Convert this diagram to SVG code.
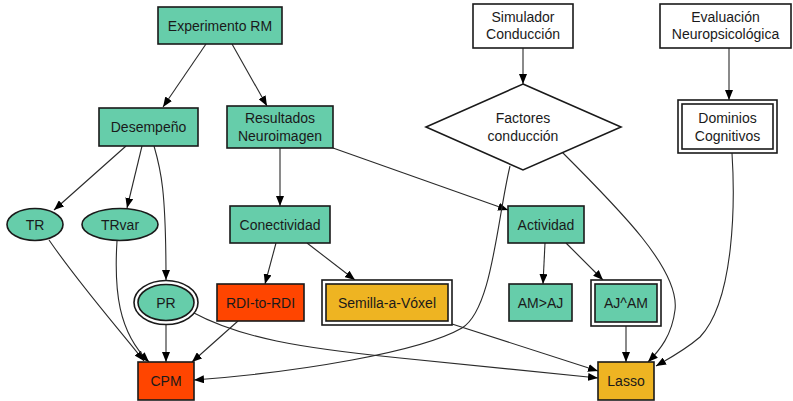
<svg xmlns="http://www.w3.org/2000/svg" width="793" height="401" viewBox="0 0 793 401">
<defs>
<style>
.n{stroke:#1a1a1a;stroke-width:1.6}
.t{fill:#66cdaa}
.o{fill:#ff4500}
.g{fill:#eeb422}
.w{fill:#ffffff}
text{font-family:"Liberation Sans",Arial,sans-serif;font-size:14px;fill:#1a1a1a;text-anchor:middle}
.e path{fill:none;stroke:#2a2a2a;stroke-width:1.1;marker-end:url(#ah)}
</style>
<marker id="ah" viewBox="0 0 10 8" refX="10" refY="4" markerWidth="10" markerHeight="8" orient="auto" markerUnits="userSpaceOnUse"><path d="M0,0 L10,4 L0,8 z" fill="#000"/></marker>
</defs>
<rect width="793" height="401" fill="#fff"/>
<g class="e" id="edges">
<path d="M206,44 L163,107"/>
<path d="M232,44 L267,106"/>
<path d="M126,146 L54,210"/>
<path d="M142,146 L127,208"/>
<path d="M154,146 C161,170 166,190 166,280"/>
<path d="M280,148 L280,206"/>
<path d="M333,148 L508,210"/>
<path d="M276,243 L265,284"/>
<path d="M307,243 L355,280"/>
<path d="M545,243 L543,284"/>
<path d="M566,243 L603,280"/>
<path d="M523,48 L523,84"/>
<path d="M729,48 L729,100"/>
<path d="M510,166 C497,220 492,310 462,328 C420,352 300,372 194,380"/>
<path d="M562,152 C620,210 680,270 675,310 C672,335 660,350 648,362"/>
<path d="M732,153 C735,200 735,300 700,337 C685,350 670,358 656,366"/>
<path d="M49,240 C80,285 118,328 144,361"/>
<path d="M117,241 C114,290 118,332 149,362"/>
<path d="M166,325 L166,362"/>
<path d="M192,312 C240,338 300,348 400,358 C480,366 560,374 598,378"/>
<path d="M452,324 L598,371"/>
<path d="M238,321 L192,362"/>
<path d="M626,326 L626,362"/>
</g>
<g id="experimento"><rect class="n t" x="158" y="7" width="124" height="37"/><text x="220" y="31">Experimento RM</text></g>
<g id="desempeno"><rect class="n t" x="99" y="108" width="99" height="38"/><text x="148.5" y="132">Desempeño</text></g>
<g id="resultados"><rect class="n t" x="227" y="106" width="106" height="42"/><text x="280" y="123">Resultados</text><text x="280" y="141">Neuroimagen</text></g>
<g id="simulador"><rect class="n w" x="473" y="4" width="100" height="44"/><text x="523" y="22">Simulador</text><text x="523" y="39">Conducción</text></g>
<g id="evaluacion"><rect class="n w" x="660" y="4" width="131" height="44"/><text x="725.5" y="22">Evaluación</text><text x="725.5" y="39">Neuropsicológica</text></g>
<g id="factores"><polygon class="n w" points="523,84 621,127 523,170 426,127"/><text x="523" y="123">Factores</text><text x="523" y="141">conducción</text></g>
<g id="dominios"><rect class="n w" x="678" y="100" width="99" height="53"/><rect class="n w" x="682" y="104" width="91" height="45"/><text x="727.5" y="123">Dominios</text><text x="727.5" y="141">Cognitivos</text></g>
<g id="tr"><ellipse class="n t" cx="35" cy="224.5" rx="28" ry="16"/><text x="35" y="229.5">TR</text></g>
<g id="trvar"><ellipse class="n t" cx="120" cy="224.5" rx="38" ry="16"/><text x="120" y="229.5">TRvar</text></g>
<g id="conectividad"><rect class="n t" x="230" y="206" width="100" height="37"/><text x="280" y="229.5">Conectividad</text></g>
<g id="actividad"><rect class="n t" x="508" y="206" width="76" height="37"/><text x="546" y="229.5">Actividad</text></g>
<g id="pr"><ellipse class="n w" cx="166" cy="302.5" rx="32" ry="22"/><ellipse class="n t" cx="166" cy="302.5" rx="28" ry="18"/><text x="166" y="307.5">PR</text></g>
<g id="rdi"><rect class="n o" x="217" y="284" width="87" height="37"/><text x="260.5" y="307.5">RDI-to-RDI</text></g>
<g id="semilla"><rect class="n w" x="322" y="280" width="130" height="45"/><rect class="n g" x="326" y="284" width="122" height="37"/><text x="387" y="307.5">Semilla-a-Vóxel</text></g>
<g id="amaj"><rect class="n t" x="509" y="284" width="63" height="37"/><text x="540.5" y="307.5">AM&gt;AJ</text></g>
<g id="ajam"><rect class="n w" x="591" y="280" width="70" height="46"/><rect class="n t" x="595" y="284" width="62" height="38"/><text x="626" y="307.5">AJ^AM</text></g>
<g id="cpm"><rect class="n o" x="138" y="362" width="56" height="38"/><text x="166" y="386">CPM</text></g>
<g id="lasso"><rect class="n g" x="598" y="362" width="56" height="38"/><text x="626" y="386">Lasso</text></g>
</svg>
